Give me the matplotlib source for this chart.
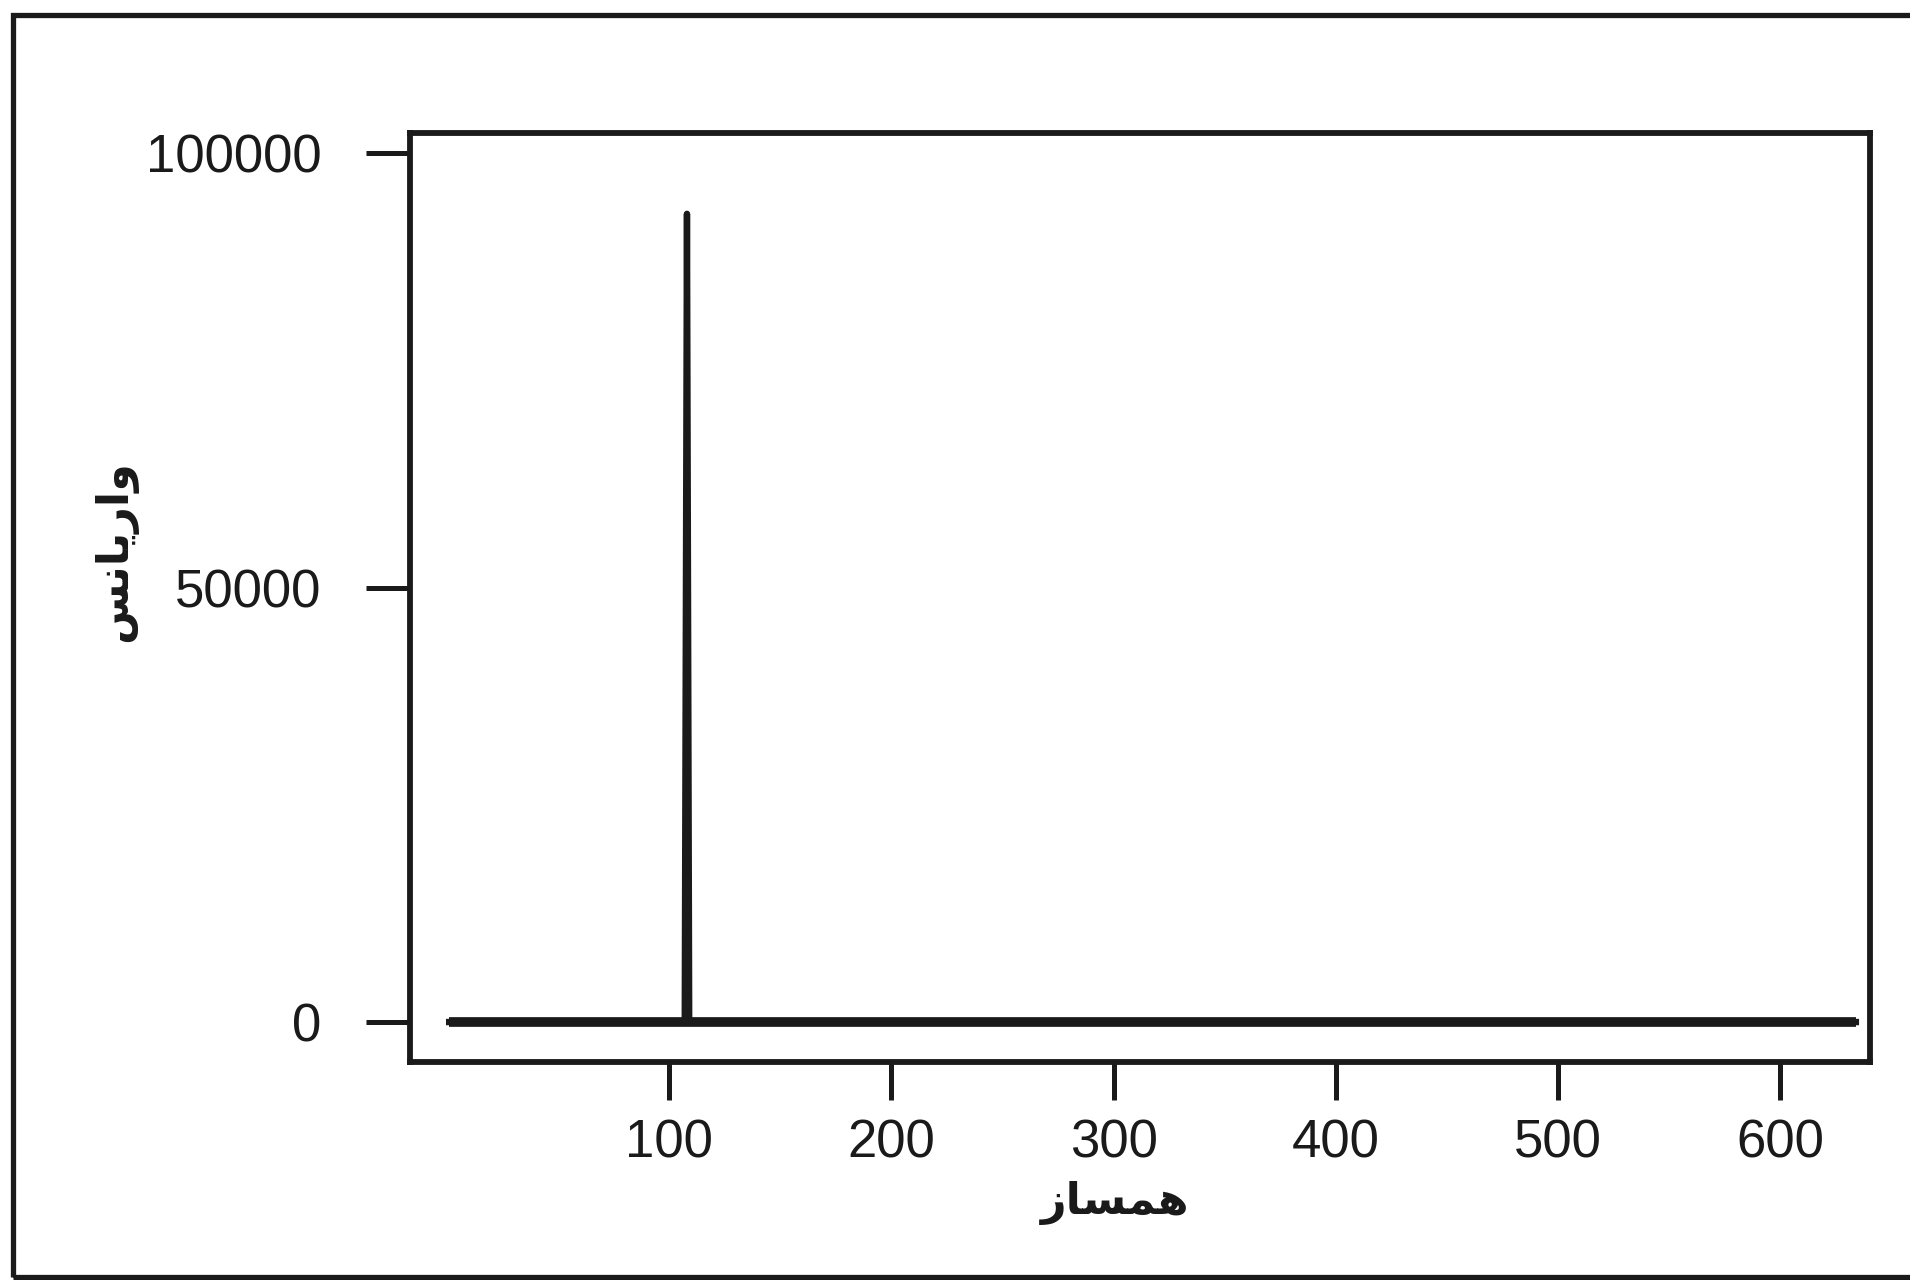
import matplotlib
matplotlib.use("Agg")
import matplotlib.pyplot as plt
from matplotlib.patches import Rectangle

# periodogram: harmonic vs variance (one dominant peak)
harmonic = [1, 107, 108, 109, 634]
variance = [0, 0, 93000, 0, 0]

x_ticks = [100, 200, 300, 400, 500, 600]
y_ticks = [0, 50000, 100000]

# Persian labels, pre-shaped (presentation forms, visual order)
xlabel = "\uFEAF\uFE8E\uFEB4\uFEE4\uFEEB"            # همساز
ylabel = "\uFEB2\uFEE7\uFE8E\uFEF3\uFEAD\uFE8D\uFEED"  # واریانس

plt.rcParams["font.family"] = ["Liberation Sans", "DejaVu Sans"]

fig = plt.figure(figsize=(19.10, 12.80), dpi=100)
ax = fig.add_axes([0.2147, 0.1703, 0.7644, 0.7258])

ax.plot(harmonic, variance, color="#1a1a1a", lw=4.6, solid_capstyle="projecting")
ax.hlines(0, harmonic[0], harmonic[-1], color="#1a1a1a", lw=7.0)

ax.set_xlim(-16.6, 640.4)
ax.set_ylim(-4600, 102300)
ax.set_xticks(x_ticks)
ax.set_yticks(y_ticks)
ax.set_xticklabels([str(v) for v in x_ticks])
ax.set_yticklabels([str(v) for v in y_ticks])

for s in ax.spines.values():
    s.set_linewidth(4.2)
    s.set_color("#1a1a1a")

ax.tick_params(axis="x", length=27, width=3.6, pad=14, labelsize=38, color="#1a1a1a",
               labelcolor="#1a1a1a")
ax.tick_params(axis="y", length=32, width=3.6, pad=32, labelsize=38, color="#1a1a1a",
               labelcolor="#1a1a1a")

ax.set_xlabel(xlabel, family="DejaVu Sans", fontweight="bold", fontsize=32, color="#1a1a1a")
ax.xaxis.set_label_coords(0.483, -0.152)
ax.xaxis.label.set_va("center")
ax.set_ylabel(ylabel, family="DejaVu Sans", fontweight="bold", fontsize=32, color="#1a1a1a")
ax.yaxis.set_label_coords(-0.202, 0.55)
ax.yaxis.label.set_va("center")

# outer frame of the scanned figure
frame = Rectangle((13 / 1910, 3 / 1280), 1.2, 1 - 18 / 1280, transform=fig.transFigure,
                  fill=False, lw=3.8, edgecolor="#1a1a1a", clip_on=False)
fig.patches.append(frame)

fig.savefig("out.png", dpi=100, facecolor="white")
